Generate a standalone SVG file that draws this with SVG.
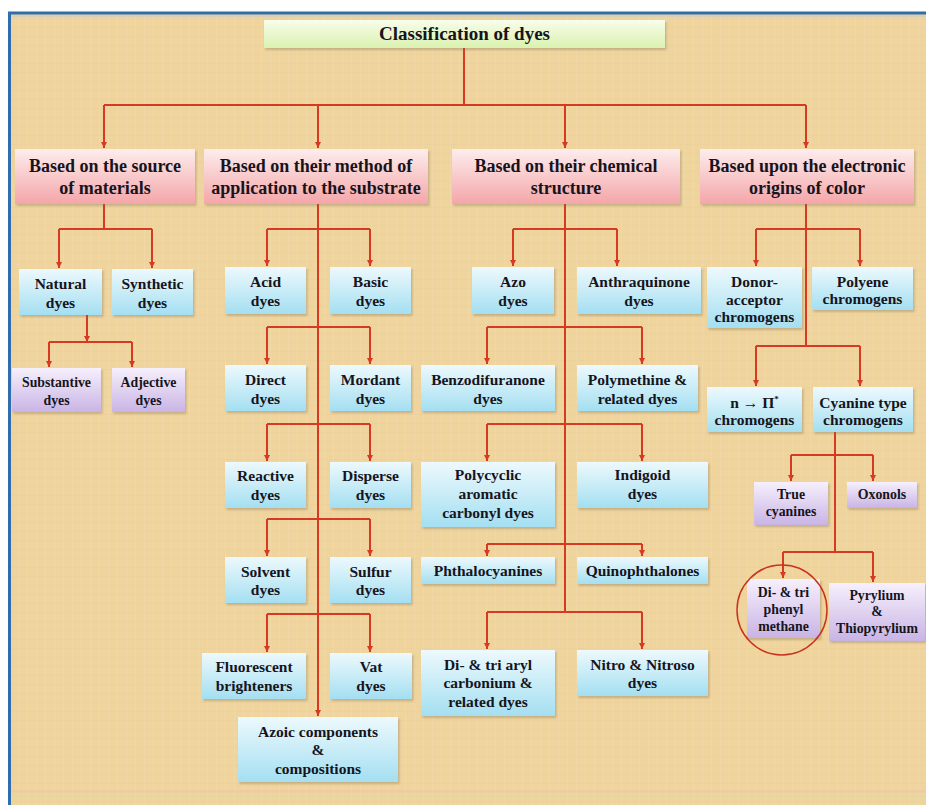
<svg xmlns="http://www.w3.org/2000/svg" width="926" height="805" viewBox="0 0 926 805">
<defs>
  <linearGradient id="gPink" x1="0" y1="0" x2="0" y2="1"><stop offset="0" stop-color="#FDEDED"/><stop offset="1" stop-color="#F4A6A9"/></linearGradient>
  <linearGradient id="gBlue" x1="0" y1="0" x2="0" y2="1"><stop offset="0" stop-color="#EDF9FD"/><stop offset="1" stop-color="#A4DFF1"/></linearGradient>
  <linearGradient id="gPurple" x1="0" y1="0" x2="0" y2="1"><stop offset="0" stop-color="#F6F0FC"/><stop offset="1" stop-color="#C9B4E5"/></linearGradient>
  <linearGradient id="gGreen" x1="0" y1="0" x2="0" y2="1"><stop offset="0" stop-color="#F7FDEB"/><stop offset="1" stop-color="#DBF2B0"/></linearGradient>
  <pattern id="bgTex" width="9" height="9" patternUnits="userSpaceOnUse">
    <rect width="9" height="9" fill="#EFD49E"/>
    <path d="M0.5 0V9" stroke="#F2DBAE" stroke-width="1" opacity="0.6"/>
    <path d="M0 0.5H9" stroke="#E8CC94" stroke-width="1" opacity="0.35"/>
  </pattern>
  <marker id="arr" viewBox="0 0 8 8" refX="8" refY="4" markerWidth="6" markerHeight="6" markerUnits="userSpaceOnUse" orient="auto">
    <path d="M0 0L8 4L0 8z" fill="#D63A22"/>
  </marker>
  <filter id="sh" x="-10%" y="-10%" width="130%" height="140%">
    <feDropShadow dx="1.5" dy="2" stdDeviation="1" flood-color="#7a6a50" flood-opacity="0.35"/>
  </filter>
</defs>
<style>
  .box { filter: url(#sh); }
  .pink { fill: url(#gPink); }
  .blue { fill: url(#gBlue); }
  .purple { fill: url(#gPurple); }
  .green { fill: url(#gGreen); }
  text { font-family: "Liberation Serif", "Times New Roman", serif; font-weight: bold; fill: #16141c; text-anchor: middle; }
  .t0 { font-size: 19px; }
  .t1 { font-size: 18px; }
  .t2 { font-size: 15.5px; }
  .t3 { font-size: 13.8px; }
  .conn path { stroke: #D63A22; stroke-width: 2; fill: none; }
  .conn path.a { marker-end: url(#arr); }
</style>

<!-- background & frame -->
<rect x="0" y="0" width="926" height="805" fill="#FFFFFF"/>
<rect x="9" y="13" width="917" height="792" fill="url(#bgTex)"/>
<path d="M11 16H926" stroke="#A9C8DF" stroke-width="1" opacity="0.7"/>
<path d="M8 13H926" stroke="#2F6DAE" stroke-width="3"/>
<path d="M9.5 12V805" stroke="#2F6DAE" stroke-width="3"/>
<path d="M11 791H926" stroke="#F2C6A8" stroke-width="2" opacity="0.7"/>
<path d="M11 796H926" stroke="#D9DCA4" stroke-width="2" opacity="0.7"/>

<!-- connectors -->
<g id="connectors" class="conn">
  <path d="M464 48V105"/>
  <path d="M104 105H806"/>
  <path class="a" d="M104 105V148"/>
  <path class="a" d="M318 105V148"/>
  <path class="a" d="M565 105V148"/>
  <path class="a" d="M806 105V148"/>

  <!-- source -->
  <path d="M104 204V229"/>
  <path d="M59 229H152"/>
  <path class="a" d="M59 229V268"/>
  <path class="a" d="M152 229V268"/>
  <path class="a" d="M87 315V342"/>
  <path d="M49 342H132"/>
  <path class="a" d="M49 342V367"/>
  <path class="a" d="M132 342V367"/>

  <!-- method -->
  <path class="a" d="M318 204V716"/>
  <path d="M267 229H370"/>
  <path class="a" d="M267 229V266"/>
  <path class="a" d="M370 229V266"/>
  <path d="M267 327H370"/>
  <path class="a" d="M267 327V364"/>
  <path class="a" d="M370 327V364"/>
  <path d="M267 424H370"/>
  <path class="a" d="M267 424V461"/>
  <path class="a" d="M370 424V461"/>
  <path d="M267 519H370"/>
  <path class="a" d="M267 519V556"/>
  <path class="a" d="M370 519V556"/>
  <path d="M267 614H370"/>
  <path class="a" d="M267 614V652"/>
  <path class="a" d="M370 614V652"/>

  <!-- structure -->
  <path d="M565 204V612"/>
  <path d="M513 229H617"/>
  <path class="a" d="M513 229V266"/>
  <path class="a" d="M617 229V266"/>
  <path d="M487 327H642"/>
  <path class="a" d="M487 327V364"/>
  <path class="a" d="M642 327V364"/>
  <path d="M487 424H642"/>
  <path class="a" d="M487 424V461"/>
  <path class="a" d="M642 424V461"/>
  <path d="M487 544H642"/>
  <path class="a" d="M487 544V556"/>
  <path class="a" d="M642 544V556"/>
  <path d="M487 612H642"/>
  <path class="a" d="M487 612V649"/>
  <path class="a" d="M642 612V649"/>

  <!-- electronic -->
  <path d="M806 204V346"/>
  <path d="M756 229H860"/>
  <path class="a" d="M756 229V266"/>
  <path class="a" d="M860 229V266"/>
  <path d="M756 346H860"/>
  <path class="a" d="M756 346V386"/>
  <path class="a" d="M860 346V386"/>
  <path d="M835 432V552"/>
  <path d="M791 455H873"/>
  <path class="a" d="M791 455V481"/>
  <path class="a" d="M873 455V481"/>
  <path d="M783 552H873"/>
  <path class="a" d="M783 552V578"/>
  <path class="a" d="M873 552V582"/>
</g>

<!-- title -->
<g id="n-title"><rect class="box green" x="264" y="20" width="401" height="28"/><text class="t0" x="464.5" y="40">Classification of dyes</text></g>

<!-- level 1 -->
<g id="n-source"><rect class="box pink" x="15" y="149" width="180" height="55"/><text class="t1" x="105" y="172">Based on the source</text><text class="t1" x="105" y="194">of materials</text></g>
<g id="n-method"><rect class="box pink" x="204" y="149" width="224" height="55"/><text class="t1" x="316" y="172">Based on their method of</text><text class="t1" x="316" y="194">application to the substrate</text></g>
<g id="n-structure"><rect class="box pink" x="452" y="149" width="228" height="55"/><text class="t1" x="566" y="172">Based on their chemical</text><text class="t1" x="566" y="194">structure</text></g>
<g id="n-electronic"><rect class="box pink" x="700" y="149" width="214" height="55"/><text class="t1" x="807" y="172">Based upon the electronic</text><text class="t1" x="807" y="194">origins of color</text></g>

<!-- source branch -->
<g id="n-natural"><rect class="box blue" x="19" y="269" width="83" height="46"/><text class="t2" x="60.5" y="289">Natural</text><text class="t2" x="60.5" y="308">dyes</text></g>
<g id="n-synthetic"><rect class="box blue" x="112" y="269" width="81" height="46"/><text class="t2" x="152.5" y="289">Synthetic</text><text class="t2" x="152.5" y="308">dyes</text></g>
<g id="n-substantive"><rect class="box purple" x="12" y="368" width="89" height="44"/><text class="t3" x="56.5" y="387">Substantive</text><text class="t3" x="56.5" y="405">dyes</text></g>
<g id="n-adjective"><rect class="box purple" x="112" y="368" width="73" height="44"/><text class="t3" x="148.5" y="387">Adjective</text><text class="t3" x="148.5" y="405">dyes</text></g>

<!-- method branch -->
<g id="n-acid"><rect class="box blue" x="225" y="267" width="81" height="47"/><text class="t2" x="265.5" y="287">Acid</text><text class="t2" x="265.5" y="306">dyes</text></g>
<g id="n-basic"><rect class="box blue" x="330" y="267" width="81" height="47"/><text class="t2" x="370.5" y="287">Basic</text><text class="t2" x="370.5" y="306">dyes</text></g>
<g id="n-direct"><rect class="box blue" x="225" y="365" width="81" height="46"/><text class="t2" x="265.5" y="385">Direct</text><text class="t2" x="265.5" y="404">dyes</text></g>
<g id="n-mordant"><rect class="box blue" x="330" y="365" width="81" height="46"/><text class="t2" x="370.5" y="385">Mordant</text><text class="t2" x="370.5" y="404">dyes</text></g>
<g id="n-reactive"><rect class="box blue" x="225" y="462" width="81" height="46"/><text class="t2" x="265.5" y="481">Reactive</text><text class="t2" x="265.5" y="500">dyes</text></g>
<g id="n-disperse"><rect class="box blue" x="330" y="462" width="81" height="46"/><text class="t2" x="370.5" y="481">Disperse</text><text class="t2" x="370.5" y="500">dyes</text></g>
<g id="n-solvent"><rect class="box blue" x="225" y="557" width="81" height="46"/><text class="t2" x="265.5" y="577">Solvent</text><text class="t2" x="265.5" y="595">dyes</text></g>
<g id="n-sulfur"><rect class="box blue" x="330" y="557" width="81" height="46"/><text class="t2" x="370.5" y="577">Sulfur</text><text class="t2" x="370.5" y="595">dyes</text></g>
<g id="n-fluorescent"><rect class="box blue" x="202" y="653" width="104" height="46"/><text class="t2" x="254" y="672">Fluorescent</text><text class="t2" x="254" y="691">brighteners</text></g>
<g id="n-vat"><rect class="box blue" x="330" y="653" width="82" height="46"/><text class="t2" x="371" y="672">Vat</text><text class="t2" x="371" y="691">dyes</text></g>
<g id="n-azoic"><rect class="box blue" x="238" y="717" width="160" height="65"/><text class="t2" x="318" y="737">Azoic components</text><text class="t2" x="318" y="755">&amp;</text><text class="t2" x="318" y="774">compositions</text></g>

<!-- structure branch -->
<g id="n-azo"><rect class="box blue" x="472" y="267" width="82" height="47"/><text class="t2" x="513" y="287">Azo</text><text class="t2" x="513" y="306">dyes</text></g>
<g id="n-anthraquinone"><rect class="box blue" x="577" y="267" width="124" height="47"/><text class="t2" x="639" y="287">Anthraquinone</text><text class="t2" x="639" y="306">dyes</text></g>
<g id="n-benzodifuranone"><rect class="box blue" x="421" y="365" width="134" height="46"/><text class="t2" x="488" y="385">Benzodifuranone</text><text class="t2" x="488" y="404">dyes</text></g>
<g id="n-polymethine"><rect class="box blue" x="577" y="365" width="121" height="46"/><text class="t2" x="637.5" y="385">Polymethine &amp;</text><text class="t2" x="637.5" y="404">related dyes</text></g>
<g id="n-polycyclic"><rect class="box blue" x="421" y="462" width="134" height="65"/><text class="t2" x="488" y="480">Polycyclic</text><text class="t2" x="488" y="499">aromatic</text><text class="t2" x="488" y="518">carbonyl dyes</text></g>
<g id="n-indigoid"><rect class="box blue" x="577" y="462" width="131" height="46"/><text class="t2" x="642.5" y="480">Indigoid</text><text class="t2" x="642.5" y="499">dyes</text></g>
<g id="n-phthalocyanines"><rect class="box blue" x="421" y="557" width="134" height="27"/><text class="t2" x="488" y="576">Phthalocyanines</text></g>
<g id="n-quinophthalones"><rect class="box blue" x="577" y="557" width="131" height="27"/><text class="t2" x="642.5" y="576">Quinophthalones</text></g>
<g id="n-triaryl"><rect class="box blue" x="421" y="650" width="134" height="66"/><text class="t2" x="488" y="670">Di- &amp; tri aryl</text><text class="t2" x="488" y="688">carbonium &amp;</text><text class="t2" x="488" y="707">related dyes</text></g>
<g id="n-nitro"><rect class="box blue" x="577" y="650" width="131" height="46"/><text class="t2" x="642.5" y="670">Nitro &amp; Nitroso</text><text class="t2" x="642.5" y="688">dyes</text></g>

<!-- electronic branch -->
<g id="n-donor"><rect class="box blue" x="707" y="267" width="95" height="61"/><text class="t2" x="754.5" y="287">Donor-</text><text class="t2" x="754.5" y="304.5">acceptor</text><text class="t2" x="754.5" y="322">chromogens</text></g>
<g id="n-polyene"><rect class="box blue" x="812" y="267" width="101" height="43"/><text class="t2" x="862.5" y="287">Polyene</text><text class="t2" x="862.5" y="304">chromogens</text></g>
<g id="n-npi"><rect class="box blue" x="707" y="387" width="95" height="45"/><text class="t2" x="754.5" y="408">n → Π<tspan font-size="9" dy="-6">*</tspan></text><text class="t2" x="754.5" y="425">chromogens</text></g>
<g id="n-cyanine"><rect class="box blue" x="813" y="387" width="100" height="45"/><text class="t2" x="863" y="408">Cyanine type</text><text class="t2" x="863" y="425">chromogens</text></g>
<g id="n-truecyanines"><rect class="box purple" x="754" y="482" width="74" height="43"/><text class="t3" x="791" y="499">True</text><text class="t3" x="791" y="516">cyanines</text></g>
<g id="n-oxonols"><rect class="box purple" x="847" y="482" width="70" height="26"/><text class="t3" x="882" y="499">Oxonols</text></g>
<g id="n-diphenyl"><rect class="box purple" x="747" y="579" width="73" height="59"/><text class="t3" x="783.5" y="597">Di- &amp; tri</text><text class="t3" x="783.5" y="614">phenyl</text><text class="t3" x="783.5" y="631">methane</text></g>
<g id="n-pyrylium"><rect class="box purple" x="829" y="583" width="96" height="58"/><text class="t3" x="877" y="600">Pyrylium</text><text class="t3" x="877" y="616">&amp;</text><text class="t3" x="877" y="633">Thiopyrylium</text></g>
<g id="highlight"><circle cx="782" cy="610" r="45" fill="none" stroke="#C8341E" stroke-width="1.5"/></g>
</svg>
